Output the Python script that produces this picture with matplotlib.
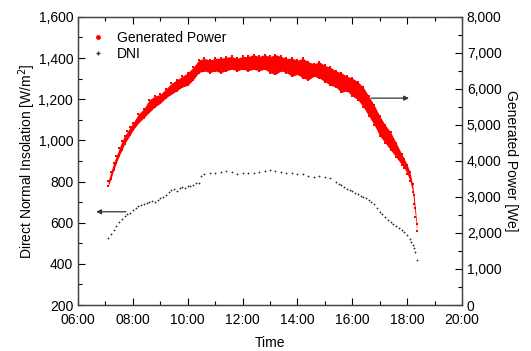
import numpy as np
import matplotlib.pyplot as plt
from matplotlib.ticker import MultipleLocator, FuncFormatter
from matplotlib.lines import Line2D

plt.rcParams['font.family'] = ['Liberation Sans', 'DejaVu Sans']
plt.rcParams['font.size'] = 9

# generated power band (hours, lower / upper edge in We)
t_pow = [7.10, 7.20, 7.30, 7.40, 7.50, 7.60, 7.70, 7.80, 7.90, 8.00, 8.20, 8.40, 8.60, 8.80,
         9.00, 9.20, 9.40, 9.60, 9.80, 10.00, 10.20, 10.40, 10.60, 10.80, 11.00, 11.20, 11.40,
         11.60, 11.80, 12.00, 12.20, 12.40, 12.60, 12.80, 13.00, 13.20, 13.40, 13.60, 13.80,
         14.00, 14.20, 14.40, 14.60, 14.80, 15.00, 15.20, 15.40, 15.60, 15.80, 16.00, 16.20,
         16.40, 16.60, 16.80, 17.00, 17.20, 17.40, 17.60, 17.80, 17.90, 18.00, 18.10, 18.20,
         18.25, 18.30, 18.35]
pow_low = [3300, 3500, 3750, 3950, 4150, 4300, 4480, 4600, 4720, 4850, 5050, 5200, 5350, 5500,
           5600, 5750, 5850, 5950, 6050, 6100, 6250, 6450, 6500, 6450, 6500, 6450, 6500,
           6550, 6500, 6550, 6500, 6550, 6500, 6550, 6450, 6400, 6500, 6450, 6350,
           6400, 6300, 6250, 6350, 6300, 6200, 6100, 6050, 5900, 5950, 5800, 5700,
           5500, 5250, 5000, 4700, 4500, 4300, 4100, 3900, 3800, 3650, 3450, 3150,
           2800, 2450, 2050]
pow_up = [3450, 3700, 3950, 4150, 4350, 4550, 4700, 4820, 4950, 5050, 5300, 5450, 5700, 5800,
          5850, 6000, 6150, 6250, 6350, 6450, 6600, 6800, 6850, 6800, 6850, 6850, 6880,
          6900, 6850, 6900, 6900, 6950, 6900, 6950, 6900, 6950, 6900, 6850, 6850,
          6800, 6850, 6750, 6700, 6750, 6650, 6600, 6500, 6450, 6350, 6300, 6200,
          6050, 5800, 5550, 5250, 5000, 4800, 4500, 4200, 4050, 3900, 3700, 3350,
          3050, 2700, 2250]

# direct normal insolation (hours, W/m2)
t_dni = [7.10, 7.20, 7.30, 7.40, 7.50, 7.60, 7.70, 7.80, 7.90, 8.00, 8.10, 8.20, 8.30, 8.40,
         8.50, 8.60, 8.70, 8.80, 8.90, 9.00, 9.10, 9.20, 9.30, 9.40, 9.50, 9.60, 9.70, 9.80,
         9.90, 10.00, 10.10, 10.20, 10.30, 10.40, 10.50, 10.60, 10.80, 11.00, 11.20, 11.40,
         11.60, 11.80, 12.00, 12.20, 12.40, 12.60, 12.80, 13.00, 13.20, 13.40, 13.60, 13.80,
         14.00, 14.20, 14.40, 14.60, 14.80, 15.00, 15.20, 15.40, 15.50, 15.60, 15.70, 15.80,
         15.90, 16.00, 16.10, 16.20, 16.30, 16.40, 16.50, 16.60, 16.70, 16.80, 16.90, 17.00,
         17.10, 17.20, 17.30, 17.40, 17.50, 17.60, 17.70, 17.80, 17.90, 18.00, 18.10, 18.15,
         18.20, 18.25, 18.30, 18.35]
dni = [524, 545, 565, 585, 605, 620, 632, 640, 648, 660, 672, 680, 686, 690,
       695, 700, 705, 702, 712, 718, 725, 735, 750, 758, 762, 755, 768, 772,
       770, 778, 776, 785, 792, 795, 826, 836, 840, 842, 848, 852,
       845, 838, 840, 842, 843, 845, 850, 857, 852, 848, 840, 842,
       835, 838, 826, 824, 828, 820, 818, 800, 790, 782, 775, 765,
       758, 752, 745, 740, 732, 725, 718, 708, 700, 692, 672, 650,
       640, 628, 615, 605, 595, 585, 575, 565, 555, 540, 520, 508,
       490, 475, 459, 419]

fig = plt.figure(figsize=(5.31, 3.51), dpi=100)
ax = fig.add_axes([0.147, 0.131, 0.723, 0.821])
ax2 = ax.twinx()

ax.plot(t_dni, dni, ls='none', marker='+', ms=2, mew=0.6, color='#333333', zorder=3)

ax2.fill_between(t_pow, pow_low, pow_up, color='red', lw=0)
ax2.plot(t_pow, pow_low, ls='none', marker='s', ms=1.5, mew=0, color='red')
ax2.plot(t_pow, pow_up, ls='none', marker='s', ms=1.5, mew=0, color='red')

# arrows pointing to the axis of each curve
ax.annotate('', xy=(6.56, 653), xytext=(7.85, 653),
            arrowprops=dict(arrowstyle='-|>', color='#333333', lw=0.9, mutation_scale=7))
ax.annotate('', xy=(18.17, 1205), xytext=(16.58, 1205),
            arrowprops=dict(arrowstyle='-|>', color='#333333', lw=0.9, mutation_scale=7))

ax.set_xlim(6, 20)
ax.set_ylim(200, 1600)
ax2.set_ylim(0, 8000)

ax.xaxis.set_major_locator(MultipleLocator(2))
ax.xaxis.set_minor_locator(MultipleLocator(1))
ax.xaxis.set_major_formatter(FuncFormatter(lambda v, p: '%02d:00' % int(round(v))))
ax.yaxis.set_major_locator(MultipleLocator(200))
ax.yaxis.set_minor_locator(MultipleLocator(100))
ax.yaxis.set_major_formatter(FuncFormatter(lambda v, p: '{:,.0f}'.format(v)))
ax2.yaxis.set_major_locator(MultipleLocator(1000))
ax2.yaxis.set_minor_locator(MultipleLocator(500))
ax2.yaxis.set_major_formatter(FuncFormatter(lambda v, p: '{:,.0f}'.format(v)))

ax.tick_params(which='both', direction='in', top=True, right=False)
ax.tick_params(which='major', length=5, width=0.8, labelsize=10)
ax.tick_params(which='minor', length=3, width=0.8)
ax.tick_params(axis='x', which='major', pad=6)
ax2.tick_params(which='both', direction='in')
ax2.tick_params(which='major', length=5, width=0.8, labelsize=10)
ax2.tick_params(which='minor', length=3, width=0.8)
for a in (ax, ax2):
    for s in a.spines.values():
        s.set_color('#444444')
        s.set_linewidth(0.9)

ax.set_xlabel('Time', fontsize=10, labelpad=6)
ax.set_ylabel('Direct Normal Insolation [W/m$^2$]', fontsize=10, labelpad=0)
ax2.set_ylabel('Generated Power [We]', fontsize=10, rotation=-90, labelpad=12)

handles = [Line2D([], [], ls='none', marker='o', ms=2.5, color='red'),
           Line2D([], [], ls='none', marker='+', ms=2.5, color='#333333')]
ax.legend(handles, ['Generated Power', 'DNI'], loc='upper left', frameon=False,
          fontsize=10, handletextpad=0.6, handlelength=1.5, labelspacing=0.15,
          borderaxespad=0.3, bbox_to_anchor=(0.0, 0.985))

fig.savefig('out.png', dpi=100)
